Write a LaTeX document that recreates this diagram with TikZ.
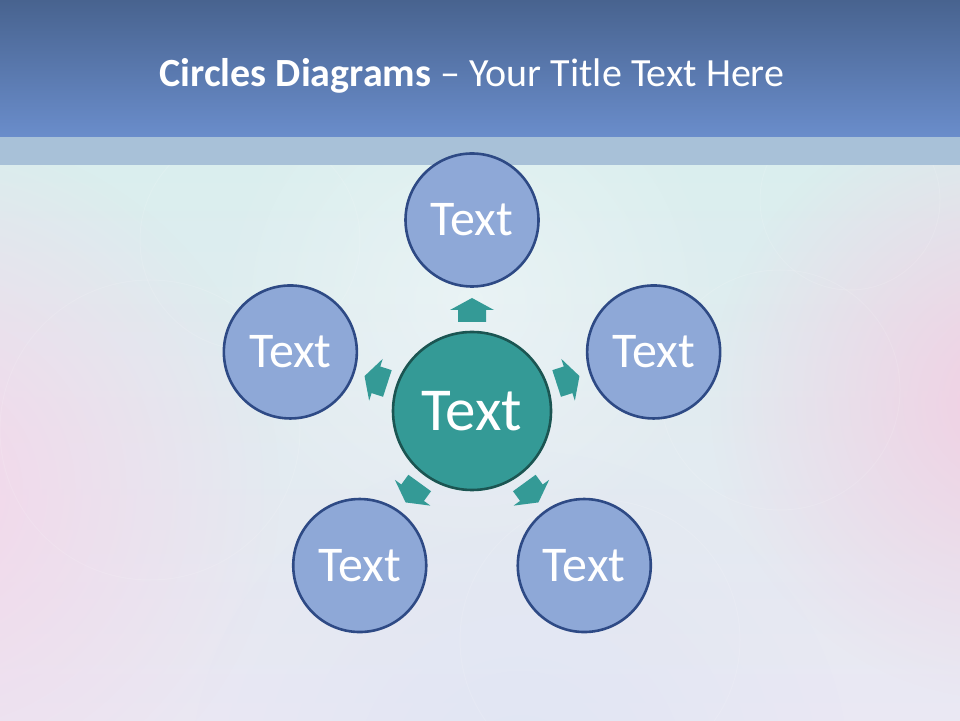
\documentclass[tikz,border=0pt]{standalone}
\usepackage{fontspec}
\setmainfont{Carlito}
\usetikzlibrary{fadings,calc}
\definecolor{bandtop}{HTML}{48638F}
\definecolor{bandbot}{HTML}{6A8DCB}
\definecolor{strip}{HTML}{A8C1D8}
\definecolor{bgtop}{HTML}{DAEEEE}
\definecolor{bgbot}{HTML}{EAE8F3}
\definecolor{pinkl}{HTML}{F5D6EA}
\definecolor{pinkr}{HTML}{F2CFE3}
\definecolor{bluebot}{HTML}{E0E6F4}
\definecolor{nodefill}{HTML}{8EA8D7}
\definecolor{nodeline}{HTML}{2E4A85}
\definecolor{teal}{HTML}{349A96}
\definecolor{tealline}{HTML}{1B5552}
\tikzfading[name=blobfade, inner color=transparent!0, outer color=transparent!100]
\begin{document}
\begin{tikzpicture}[x=1pt,y=1pt,
  outer/.style={circle, draw=nodeline, line width=2.6pt, fill=nodefill, minimum size=133pt, inner sep=0pt,
    text=white, font=\fontsize{50}{54}\selectfont},
  hub/.style={circle, draw=tealline, line width=2.6pt, fill=teal, minimum size=158pt, inner sep=0pt,
    text=white, font=\fontsize{61}{66}\selectfont},
  blockarrow/.style={fill=teal, draw=none}]
\useasboundingbox (0,0) rectangle (960,720);
% background
\shade[top color=bgtop, bottom color=bgbot] (0,0) rectangle (960,555);
\fill[pinkl, path fading=blobfade] (-80,230) circle (360);
\fill[pinkr, path fading=blobfade] (1010,320) circle (300);
\fill[bluebot, path fading=blobfade] (520,-60) circle (330);
\fill[white, opacity=0.35, path fading=blobfade] (470,420) circle (260);
% faint bokeh rings
\begin{scope}[draw=white, line width=1pt, opacity=0.12]
\draw (150,290) circle (150);
\draw (780,330) circle (120);
\draw (600,80) circle (140);
\draw (250,480) circle (110);
\draw (850,520) circle (90);
\end{scope}
% title band
\fill[strip] (0,555) rectangle (960,583);
\shade[top color=bandtop, bottom color=bandbot] (0,583) rectangle (960,720);
\node[text=white, font=\fontsize{40}{46}\selectfont, anchor=base] (title) at (472,633)
  {\textbf{Circles Diagrams} – Your Title Text Here};
% nodes
\node[hub] (c) at (472,309) {Text};
\node[outer] (n1) at ($(c.center)+(90:191)$) {Text};
\node[outer] (n2) at ($(c.center)+(162:191)$) {Text};
\node[outer] (n3) at ($(c.center)+(234:191)$) {Text};
\node[outer] (n4) at ($(c.center)+(306:191)$) {Text};
\node[outer] (n5) at ($(c.center)+(18:191)$) {Text};
% block arrows
\foreach \a in {90,162,234,306,18}{
  \begin{scope}[shift={(c.center)}, rotate=\a-90]
    \fill[blockarrow] (-14,89) -- (-14,101) -- (-22,101) -- (0,113) -- (22,101) -- (14,101) -- (14,89) -- cycle;
  \end{scope}
}
\end{tikzpicture}
\end{document}
